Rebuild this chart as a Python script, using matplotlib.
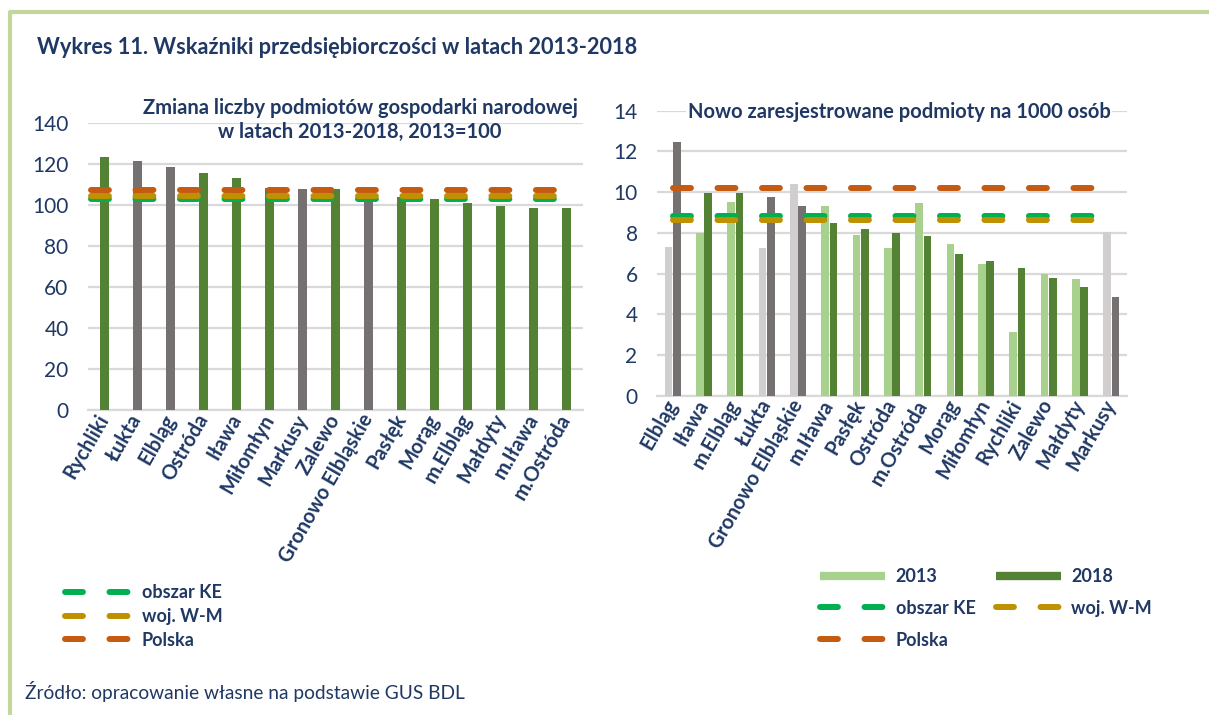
import matplotlib
matplotlib.use('Agg')
import matplotlib.pyplot as plt
from matplotlib.lines import Line2D
import numpy as np

plt.rcParams['font.family'] = ['Lato', 'DejaVu Sans']

# ---------------- data ----------------
change_categories = ['Rychliki', 'Łukta', 'Elbląg', 'Ostróda', 'Iława', 'Miłomłyn',
                     'Markusy', 'Zalewo', 'Gronowo Elbląskie', 'Pasłęk', 'Morąg',
                     'm.Elbląg', 'Małdyty', 'm.Iława', 'm.Ostróda']
change_values = [123.7, 121.8, 118.8, 115.6, 113.1, 108.6, 108.1, 108.1, 105.5,
                 103.9, 103.2, 101.3, 99.5, 98.8, 98.8]
change_ref_ke = 102.9
change_ref_wm = 104.5
change_ref_pl = 107.4

new_categories = ['Elbląg', 'Iława', 'm.Elbląg', 'Łukta', 'Gronowo Elbląskie', 'm.Iława',
                  'Pasłęk', 'Ostróda', 'm.Ostróda', 'Morąg', 'Miłomłyn', 'Rychliki',
                  'Zalewo', 'Małdyty', 'Markusy']
new_2013 = [7.3, 8.0, 9.5, 7.25, 10.4, 9.3, 7.9, 7.25, 9.45, 7.45, 6.45, 3.15, 6.0, 5.75, 8.05]
new_2018 = [12.45, 9.95, 9.95, 9.75, 9.3, 8.5, 8.2, 8.0, 7.85, 6.95, 6.6, 6.25, 5.8, 5.35, 4.85]
new_ref_ke = 8.85
new_ref_wm = 8.65
new_ref_pl = 10.2

gray_units = ['Łukta', 'Elbląg', 'Markusy', 'Gronowo Elbląskie']

left_title = 'Zmiana liczby podmiotów gospodarki narodowej\nw latach 2013-2018, 2013=100'
right_title = 'Nowo zaresjestrowane podmioty na 1000 osób'
main_title = 'Wykres 11. Wskaźniki przedsiębiorczości w latach 2013-2018'
source_text = 'Źródło: opracowanie własne na podstawie GUS BDL'
ref_labels = ['obszar KE', 'woj. W-M', 'Polska']
year_labels = ['2013', '2018']

# ---------------- style ----------------
NAVY = '#1F3864'
GREEN_DARK = '#548235'
GREEN_LIGHT = '#A9D18E'
GRAY_DARK = '#767171'
GRAY_LIGHT = '#D0CECE'
C_KE = '#00B050'
C_WM = '#BF9000'
C_PL = '#C55A11'
GRID = '#D9D9D9'
BORDER = '#C3D69B'

W, H = 1209, 715
fig = plt.figure(figsize=(W / 100, H / 100), dpi=100)
fig.patch.set_facecolor('white')

def fx(px):
    return px / W

def fy(py):
    return 1 - py / H

DASH_LW = 4.3
DASH_STYLE = (0, (3.0, 4.45))

def style_axes(ax, ymax, ystep):
    ax.set_ylim(0, ymax)
    ax.set_yticks(np.arange(0, ymax + 0.001, ystep))
    ax.yaxis.grid(True, color=GRID, lw=1.6)
    ax.set_axisbelow(True)
    for s in ['left', 'right', 'top']:
        ax.spines[s].set_visible(False)
    ax.spines['bottom'].set_color(GRID)
    ax.spines['bottom'].set_linewidth(1.6)
    ax.tick_params(axis='both', length=0)
    ax.tick_params(axis='y', labelsize=15, labelcolor=NAVY, pad=14)
    ax.tick_params(axis='x', labelsize=14.5, labelcolor=NAVY, pad=4)
    for lab in ax.get_xticklabels():
        lab.set_fontweight('bold')

def ref_lines(ax, x0, x1, vals):
    for v, c in zip(vals, [C_KE, C_WM, C_PL]):
        ax.plot([x0, x1], [v, v], color=c, lw=DASH_LW, linestyle=DASH_STYLE,
                dash_capstyle='round', solid_capstyle='round', zorder=5)

# ---------------- left chart ----------------
ax1 = fig.add_axes([fx(88), fy(410), fx(583) - fx(88), fy(123.3) - fy(410)])
x1 = np.arange(len(change_categories))
colors1 = [GRAY_DARK if c in gray_units else GREEN_DARK for c in change_categories]
ax1.bar(x1, change_values, width=0.3, color=colors1, zorder=3)
ax1.set_xlim(-0.5, len(change_categories) - 0.5)
ax1.set_xticks(x1)
ax1.set_xticklabels(change_categories, rotation=60, ha='right', rotation_mode='anchor',
                    va='center')
style_axes(ax1, 140, 20)
ref_lines(ax1, -0.42, len(change_categories) - 0.8,
          [change_ref_ke, change_ref_wm, change_ref_pl])
ax1.text(fx(360), fy(120), left_title, transform=fig.transFigure, ha='center', va='center',
         fontsize=14.5, fontweight='bold', color=NAVY, linespacing=1.25)

# ---------------- right chart ----------------
ax2 = fig.add_axes([fx(657), fy(395.7), fx(1127) - fx(657), fy(110.7) - fy(395.7)])
x2 = np.arange(len(new_categories))
c13 = [GRAY_LIGHT if c in gray_units else GREEN_LIGHT for c in new_categories]
c18 = [GRAY_DARK if c in gray_units else GREEN_DARK for c in new_categories]
ax2.bar(x2 - 0.135, new_2013, width=0.24, color=c13, zorder=3)
ax2.bar(x2 + 0.135, new_2018, width=0.24, color=c18, zorder=3)
ax2.set_xlim(-0.5, len(new_categories) - 0.5)
ax2.set_xticks(x2)
ax2.set_xticklabels(new_categories, rotation=60, ha='right', rotation_mode='anchor',
                    va='center')
style_axes(ax2, 14, 2)
ref_lines(ax2, 0, len(new_categories) - 1, [new_ref_ke, new_ref_wm, new_ref_pl])
ax2.text(fx(899), fy(112), right_title, transform=fig.transFigure, ha='center', va='center',
         fontsize=14.5, fontweight='bold', color=NAVY, zorder=10,
         bbox=dict(facecolor='white', edgecolor='none', pad=1))

# ---------------- legends ----------------
def dash_handle(c):
    return Line2D([], [], color=c, lw=DASH_LW, linestyle=DASH_STYLE,
                  dash_capstyle='round')

leg1 = fig.legend(handles=[dash_handle(C_KE), dash_handle(C_WM), dash_handle(C_PL)],
                  labels=ref_labels, loc='upper left',
                  bbox_to_anchor=(fx(65), fy(584)), frameon=False, borderpad=0,
                  borderaxespad=0, handlelength=3.6, handletextpad=0.65,
                  labelspacing=0.38, prop={'weight': 'bold', 'size': 13})
for t in leg1.get_texts():
    t.set_color(NAVY)

h13 = Line2D([], [], color=GREEN_LIGHT, lw=6, solid_capstyle='butt')
h18 = Line2D([], [], color=GREEN_DARK, lw=6, solid_capstyle='butt')
leg2 = fig.legend(handles=[h13, dash_handle(C_KE), dash_handle(C_PL), h18, dash_handle(C_WM)],
                  labels=[year_labels[0], ref_labels[0], ref_labels[2], year_labels[1], ref_labels[1]],
                  ncol=2, loc='upper left',
                  bbox_to_anchor=(fx(820), fy(568)), frameon=False, borderpad=0,
                  borderaxespad=0, handlelength=3.6, handletextpad=0.6,
                  labelspacing=0.82, columnspacing=1.1, prop={'weight': 'bold', 'size': 13})
for t in leg2.get_texts():
    t.set_color(NAVY)

# ---------------- titles & frame ----------------
fig.text(fx(37), fy(47), main_title, ha='left', va='center', fontsize=15.7,
         fontweight='bold', color=NAVY)
fig.text(fx(25), fy(691), source_text, ha='left', va='center', fontsize=13.8, color=NAVY)

fig.add_artist(Line2D([fx(9), 1], [fy(12), fy(12)], transform=fig.transFigure,
                      color=BORDER, lw=3, solid_capstyle='butt'))
fig.add_artist(Line2D([fx(10), fx(10)], [fy(11), 0], transform=fig.transFigure,
                      color=BORDER, lw=3, solid_capstyle='butt'))

fig.savefig('out.png', dpi=100)
